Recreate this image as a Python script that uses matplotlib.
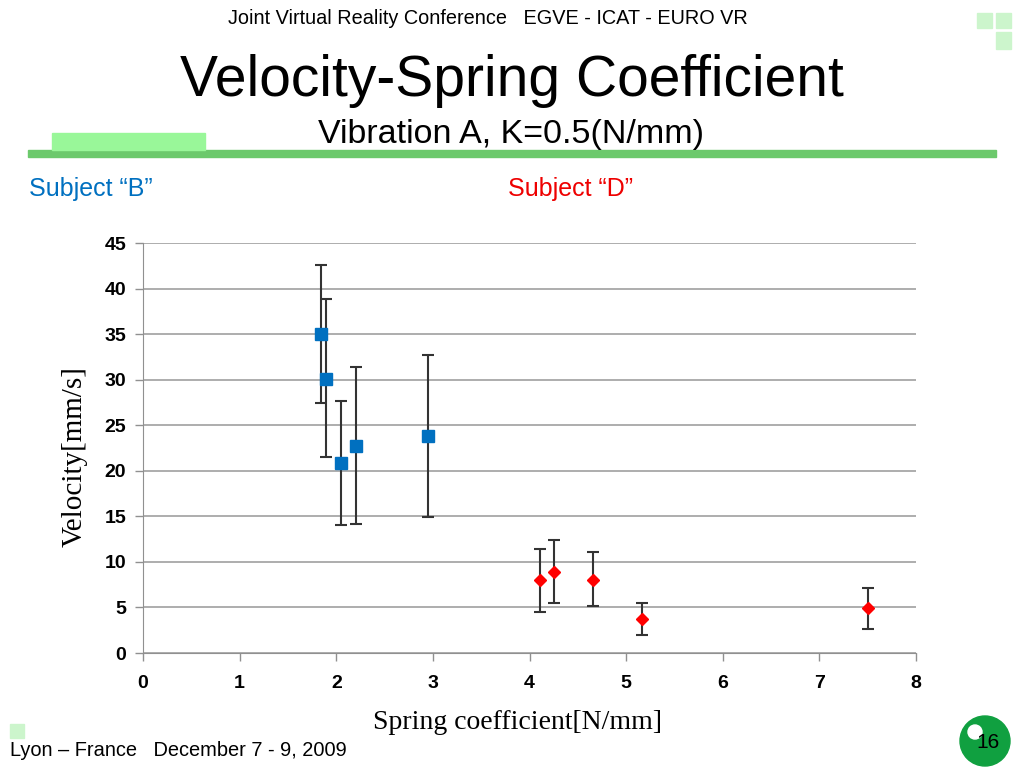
import matplotlib.pyplot as plt
from matplotlib.patches import Rectangle, Ellipse
import numpy as np

# Subject "B"
b_x = [1.84, 1.89, 2.05, 2.20, 2.95]
b_y = [35.0, 30.1, 20.9, 22.7, 23.8]
b_lo = [27.4, 21.5, 14.1, 14.2, 14.9]
b_hi = [42.6, 38.9, 27.7, 31.4, 32.7]

# Subject "D"
d_x = [4.11, 4.25, 4.66, 5.16, 7.50]
d_y = [8.0, 8.9, 8.0, 3.7, 4.9]
d_lo = [4.5, 5.5, 5.2, 2.0, 2.6]
d_hi = [11.4, 12.4, 11.1, 5.5, 7.1]

xticks = np.arange(0, 9, 1)
yticks = np.arange(0, 50, 5)

sans = 'Liberation Sans'

fig = plt.figure(figsize=(10.24, 7.68), dpi=100)
fig.patch.set_facecolor('white')

# slide decoration
fig.patches.append(Rectangle((28/1024, 1-157/768), 968/1024, 7/768, transform=fig.transFigure,
                             color='#6cc96c', zorder=0))
fig.patches.append(Rectangle((52/1024, 1-150/768), 153/1024, 17/768, transform=fig.transFigure,
                             color='#99f799', zorder=0))
for (x0, y0, w, h) in [(977, 13, 15, 15), (996, 13, 15, 15), (996, 32, 15, 17), (10, 724, 14, 14)]:
    fig.patches.append(Rectangle((x0/1024, 1-(y0+h)/768), w/1024, h/768, transform=fig.transFigure,
                                 color='#ccf5cc', zorder=0))
fig.patches.append(Ellipse((985/1024, 1-741/768), 50/1024, 50/768, transform=fig.transFigure,
                           color='#10a040', zorder=1))
fig.patches.append(Ellipse((975/1024, 1-732/768), 14/1024, 14/768, transform=fig.transFigure,
                           color='white', zorder=2))

fig.text(488/1024, 1-18/768, 'Joint Virtual Reality Conference   EGVE - ICAT - EURO VR',
         ha='center', va='center', fontsize=14.3, family=sans)
fig.text(512/1024, 1-81/768, 'Velocity-Spring Coefficient', ha='center', va='center',
         fontsize=41, family=sans)
fig.text(511/1024, 1-134/768, 'Vibration A, K=0.5(N/mm)', ha='center', va='center',
         fontsize=24.5, family=sans)
fig.text(29/1024, 1-189/768, 'Subject \u201cB\u201d', ha='left', va='center',
         fontsize=18, color='#0070c0', family=sans)
fig.text(508/1024, 1-189/768, 'Subject \u201cD\u201d', ha='left', va='center',
         fontsize=18, color='#ee0000', family=sans)
fig.text(10/1024, 1-751/768, 'Lyon \u2013 France   December 7 - 9, 2009', ha='left', va='center',
         fontsize=14.4, family=sans)
fig.text(988/1024, 1-742/768, '16', ha='center', va='center', fontsize=15,
         family=sans, zorder=3)

ax = fig.add_axes([143/1024, 1-653/768, 773/1024, 410/768])
ax.errorbar(b_x, b_y, yerr=[np.array(b_y)-np.array(b_lo), np.array(b_hi)-np.array(b_y)],
            fmt='s', color='#0070c0', ms=8, ecolor='#333333', elinewidth=1.5, capsize=4,
            capthick=1.5, zorder=3)
ax.errorbar(d_x, d_y, yerr=[np.array(d_y)-np.array(d_lo), np.array(d_hi)-np.array(d_y)],
            fmt='D', color='#ff0000', ms=6, ecolor='#333333', elinewidth=1.5, capsize=4,
            capthick=1.5, zorder=3)

ax.set_xlim(0, 8)
ax.set_ylim(0, 45)
ax.set_xticks(xticks)
ax.set_yticks(yticks)
ax.grid(axis='y', color='#a0a0a0', lw=1.2)
ax.set_axisbelow(True)
for s in ['top', 'right']:
    ax.spines[s].set_visible(False)
for s in ['left', 'bottom']:
    ax.spines[s].set_color('#909090')
ax.tick_params(color='#909090', length=6, width=1, labelsize=14)
for lab in ax.get_xticklabels() + ax.get_yticklabels():
    lab.set_fontweight('bold')
    lab.set_family(sans)
ax.tick_params(axis='x', pad=10)
ax.tick_params(axis='y', pad=6)
ax.set_xlabel('Spring coefficient[N/mm]', family='Liberation Serif', fontsize=20)
ax.xaxis.set_label_coords(0.484, -0.14)
ax.set_ylabel('Velocity[mm/s]', family='Liberation Serif', fontsize=21)
ax.yaxis.set_label_coords(-0.072, 0.48)

fig.savefig('out.png', dpi=100)
